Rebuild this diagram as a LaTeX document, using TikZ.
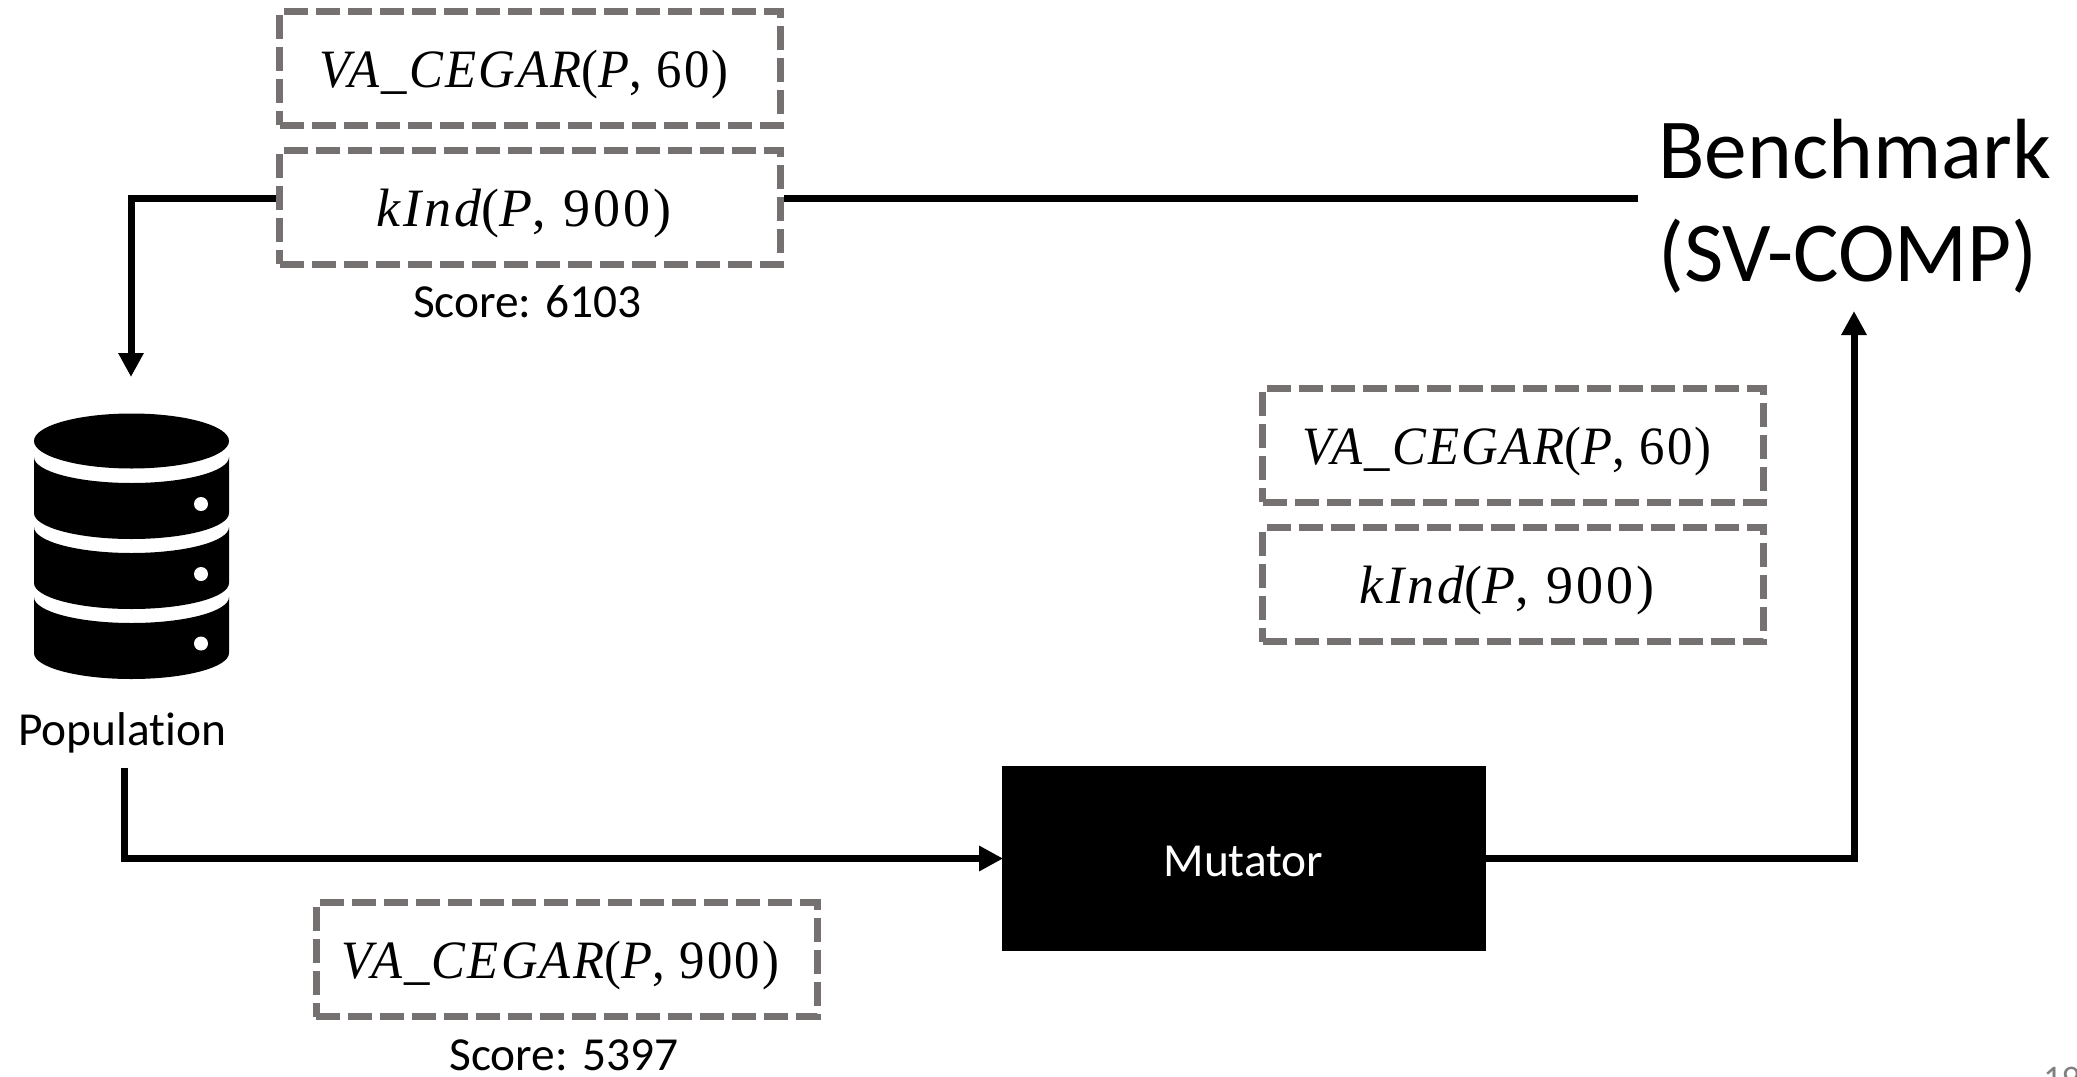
\documentclass[tikz,border=0pt]{standalone}
\usepackage{fontspec}
\setmainfont{Carlito}[RawFeature=-liga]
\newfontfamily\mathf[LetterSpace=4,FakeStretch=0.94]{Liberation Serif}
\newfontfamily\mathk[LetterSpace=6]{Liberation Serif}
\usetikzlibrary{arrows.meta}
\definecolor{dashgray}{HTML}{767171}
\newcommand{\boxtext}[1]{\raisebox{-9.7pt}[0pt][0pt]{#1\kern 6pt}}
\tikzset{
  x=0.5pt,y=-0.5pt,
  algobox/.style={draw=dashgray,line width=3.5pt,dash pattern=on 12pt off 4pt,minimum width=250.5pt,minimum height=57pt,inner sep=0pt,font=\fontsize{27}{30}\selectfont},
  conn/.style={line width=3.5pt,draw=black,-{Triangle[length=12pt,width=12pt]}},
  plainconn/.style={line width=3.5pt,draw=black},
  lbl/.style={inner sep=0pt,font=\fontsize{23.7}{27}\selectfont},
  dbfill/.style={fill=black,draw=none},
}
\begin{document}
\begin{tikzpicture}
\useasboundingbox (0,0) rectangle (2077,1076);
\node[algobox] (a1) at (530,68) {\boxtext{\mathf{\itshape VA\_CEGAR}({\itshape P}, 60)}};
\node[algobox] (a2) at (530,207) {\boxtext{\mathk{\itshape kInd}({\itshape P}, 900)}};
\node[lbl] (s1) at (527.5,302) {Score: 6103};
\node[algobox] (b1) at (1513,445) {\boxtext{\mathf{\itshape VA\_CEGAR}({\itshape P}, 60)}};
\node[algobox] (b2) at (1513,584.5) {\boxtext{\mathk{\itshape kInd}({\itshape P}, 900)}};
\node[algobox] (c1) at (566.5,959.5) {\boxtext{\mathf{\itshape VA\_CEGAR}({\itshape P}, 900)}};
\node[lbl] (s2) at (564,1055) {Score: 5397};
\node[lbl] (pop) at (122.5,733) {Population};
\node[fill=black,minimum width=242pt,minimum height=92.5pt,inner sep=0pt] (mut) at (1243.5,858.5) {};
\node[text=white,inner sep=0pt,font=\fontsize{23.7}{27}\selectfont] (mutlabel) at (1243.5,861) {Mutator};
\node[inner sep=0pt,align=left,anchor=west,font=\fontsize{42.7}{51.5}\selectfont] (bench) at (1658,206) {Benchmark\\(SV-COMP)};
% database icon
\fill[dbfill] (131.5,441) ellipse [x radius=97.5,y radius=27.5];
\foreach \t/\b in {457/513,527/583,597/653}{
  \fill[dbfill] (34,\t) arc [start angle=180,end angle=360,x radius=48.75pt,y radius=13pt]
    -- (229,\b) arc [start angle=0,end angle=-180,x radius=48.75pt,y radius=13pt] -- cycle;
}
\foreach \y in {504,574,643.5}{\fill[white] (201,\y) circle [radius=3.5pt];}
% connectors
\coordinate (toDb) at (131,377);
\coordinate (benchIn) at (1638,198);
\coordinate (benchBottom) at (1854,311);
\draw[conn] (a2.west |- 0,198) -| (toDb);
\draw[plainconn] (a2.east |- 0,198) -- (benchIn);
\draw[conn,shorten >=-1pt] (124,768) |- (mut.west);
\draw[conn] (mut.east) -| (benchBottom);
\begin{scope}
\clip (0,0) rectangle (2077,1076);
\node[anchor=north west,inner sep=0pt,text=gray,font=\fontsize{18}{21}\selectfont] (pg) at (2043,1067) {19};
\end{scope}
\end{tikzpicture}
\end{document}
